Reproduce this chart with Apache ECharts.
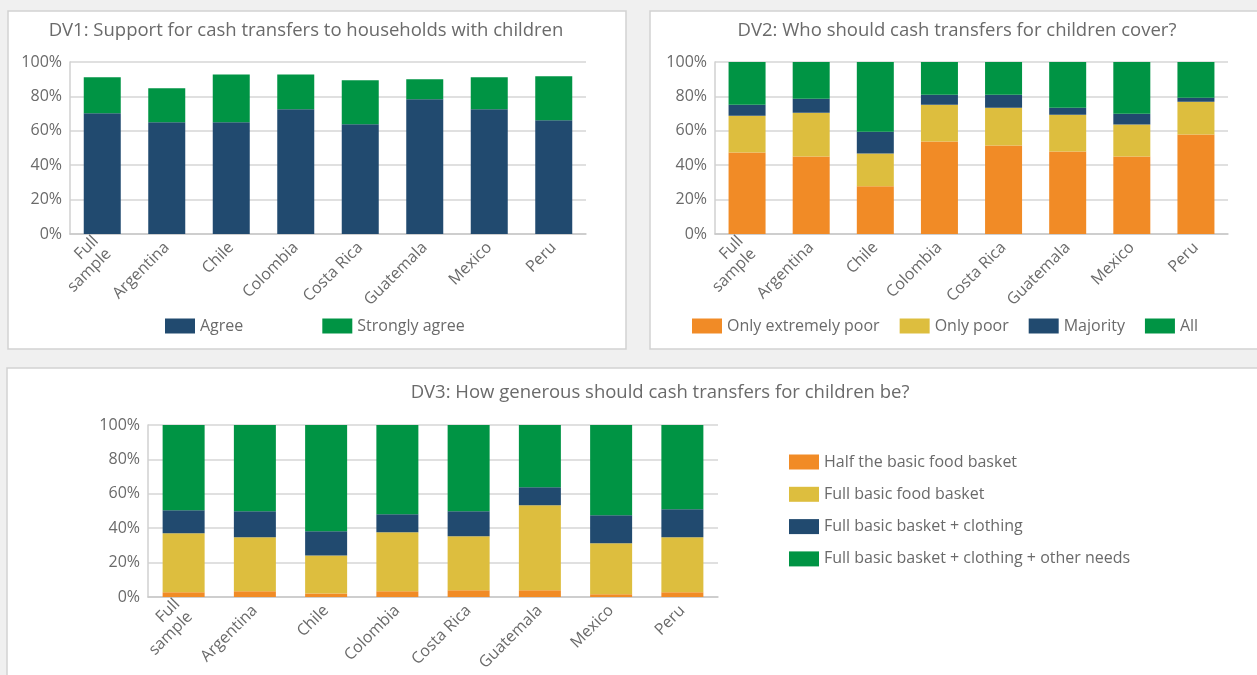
<!DOCTYPE html>
<html>
<head>
<meta charset="utf-8">
<title>Cash transfers for children</title>
<script src="https://cdn.jsdelivr.net/npm/echarts@6/dist/echarts.min.js"></script>
<style>
  html, body { margin: 0; padding: 0; background: #f0f0f0; }
  #chart { width: 1257px; height: 675px; }
</style>
</head>
<body>
<div id="chart"></div>
<script>
// Categories shared by all three panels
const countries = ['Full\nsample', 'Argentina', 'Chile', 'Colombia', 'Costa Rica', 'Guatemala', 'Mexico', 'Peru'];

// DV1: support for cash transfers (% of respondents)
const dv1Agree = [70.2, 65.0, 65.0, 72.5, 63.8, 78.3, 72.5, 66.2];
const dv1StronglyAgree = [20.9, 19.7, 27.8, 20.3, 25.6, 11.6, 18.6, 25.5];

// DV2: coverage preference (% of respondents)
const dv2ExtremelyPoor = [47.4, 45.1, 27.7, 53.8, 51.4, 48.0, 45.1, 57.8];
const dv2Poor = [21.4, 25.4, 19.1, 21.3, 22.0, 21.4, 18.5, 19.1];
const dv2Majority = [6.3, 8.1, 12.7, 5.8, 7.5, 4.0, 6.3, 2.3];
const dv2All = [24.9, 21.4, 40.5, 19.1, 19.1, 26.6, 30.1, 20.8];

// DV3: generosity preference (% of respondents)
const dv3Half = [2.7, 3.3, 2.1, 3.3, 3.9, 3.9, 1.6, 2.7];
const dv3Full = [34.3, 31.4, 22.1, 34.3, 31.4, 49.4, 29.6, 32.0];
const dv3Clothing = [13.4, 15.1, 14.0, 10.5, 14.5, 10.5, 16.3, 16.3];
const dv3Other = [49.6, 50.2, 61.8, 51.9, 50.2, 36.2, 52.5, 49.0];

// Y axis ticks
const yTicks = [0, 20, 40, 60, 80, 100];

const FONT = '"Open Sans", "Noto Sans", sans-serif';
const TEXT = '#6a6a6a';
const C_NAVY = '#214a6f';
const C_GREEN = '#009444';
const C_ORANGE = '#f18b26';
const C_YELLOW = '#ddbe3e';

const chart = echarts.init(document.getElementById('chart'));

function xAxis(gridIndex) {
  return {
    type: 'category', gridIndex, data: countries,
    axisTick: { show: false },
    axisLine: { lineStyle: { color: '#c8c8c8', width: 1.5 } },
    axisLabel: { rotate: 45, color: TEXT, fontFamily: FONT, fontSize: 16, margin: 11, lineHeight: 18 }
  };
}
function yAxis(gridIndex) {
  return {
    type: 'value', gridIndex, min: yTicks[0], max: yTicks[yTicks.length - 1], interval: 20,
    axisLine: { show: true, lineStyle: { color: '#d0d0d0', width: 1.5 } },
    axisTick: { show: false },
    splitLine: { lineStyle: { color: '#d6d6d6', width: 1.5 } },
    axisLabel: { formatter: '{value}%', color: TEXT, fontFamily: FONT, fontSize: 16, margin: 8 }
  };
}
function bar(name, data, color, xi, width) {
  return {
    name, type: 'bar', stack: 'p' + xi, data,
    xAxisIndex: xi, yAxisIndex: xi, barWidth: width,
    itemStyle: { color }, emphasis: { disabled: true }
  };
}

const panelStyle = { fill: '#ffffff', stroke: '#d2d2d2', lineWidth: 1.5 };
const titleStyle = { color: TEXT, fontFamily: FONT, fontSize: 18.5, fontWeight: 'normal' };
const legendText = { color: TEXT, fontFamily: FONT, fontSize: 16 };

chart.setOption({
  backgroundColor: '#f0f0f0',
  animation: false,
  textStyle: { fontFamily: FONT },
  graphic: [
    { type: 'rect', z: -1, shape: { x: 8, y: 11, width: 618, height: 338 }, style: panelStyle },
    { type: 'rect', z: -1, shape: { x: 650, y: 11, width: 620, height: 338 }, style: panelStyle },
    { type: 'rect', z: -1, shape: { x: 7, y: 368, width: 1263, height: 320 }, style: panelStyle }
  ],
  title: [
    { text: 'DV1: Support for cash transfers to households with children', left: 301, top: 16, textAlign: 'center', textStyle: titleStyle },
    { text: 'DV2: Who should cash transfers for children cover?', left: 952, top: 16, textAlign: 'center', textStyle: titleStyle },
    { text: 'DV3: How generous should cash transfers for children be?', left: 655, top: 378, textAlign: 'center', textStyle: titleStyle }
  ],
  legend: [
    { data: ['Agree', 'Strongly agree'], left: 160, top: 313, itemWidth: 30, itemHeight: 15, itemGap: 79, itemTextGap: 7,
      icon: 'rect', textStyle: legendText },
    { data: ['Only extremely poor', 'Only poor', 'Majority', 'All'], left: 687, top: 313, itemWidth: 30, itemHeight: 15, itemGap: 20, itemTextGap: 7,
      icon: 'rect', textStyle: legendText },
    { data: ['Half the basic food basket', 'Full basic food basket', 'Full basic basket + clothing', 'Full basic basket + clothing + other needs'],
      orient: 'vertical', left: 784, top: 449, itemWidth: 30, itemHeight: 15, itemGap: 16.3, itemTextGap: 7,
      icon: 'rect', textStyle: legendText }
  ],
  grid: [
    { left: 70, top: 62, width: 516, height: 172 },
    { left: 715, top: 62, width: 513, height: 172 },
    { left: 148, top: 425, width: 570, height: 172 }
  ],
  xAxis: [xAxis(0), xAxis(1), xAxis(2)],
  yAxis: [yAxis(0), yAxis(1), yAxis(2)],
  series: [
    bar('Agree', dv1Agree, C_NAVY, 0, 37),
    bar('Strongly agree', dv1StronglyAgree, C_GREEN, 0, 37),
    bar('Only extremely poor', dv2ExtremelyPoor, C_ORANGE, 1, 37),
    bar('Only poor', dv2Poor, C_YELLOW, 1, 37),
    bar('Majority', dv2Majority, C_NAVY, 1, 37),
    bar('All', dv2All, C_GREEN, 1, 37),
    bar('Half the basic food basket', dv3Half, C_ORANGE, 2, 42),
    bar('Full basic food basket', dv3Full, C_YELLOW, 2, 42),
    bar('Full basic basket + clothing', dv3Clothing, C_NAVY, 2, 42),
    bar('Full basic basket + clothing + other needs', dv3Other, C_GREEN, 2, 42)
  ]
});
</script>
</body>
</html>
